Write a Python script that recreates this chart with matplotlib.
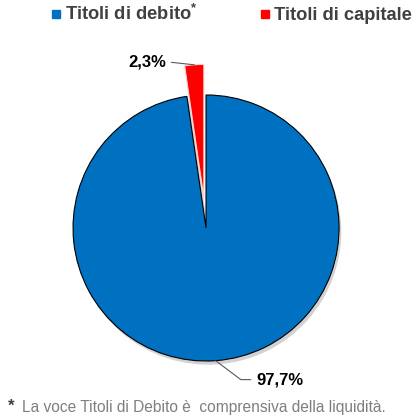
import numpy as np
import matplotlib
matplotlib.use("Agg")
import matplotlib.pyplot as plt
from matplotlib.lines import Line2D
from matplotlib.patches import Shadow

plt.rcParams['font.family'] = ['Liberation Sans', 'DejaVu Sans']
plt.rcParams['mathtext.fontset'] = 'custom'
plt.rcParams['mathtext.rm'] = 'Liberation Sans:bold'

# dati
categorie = ['Titoli di debito', 'Titoli di capitale']
valori = [97.7, 2.3]
etichette = ['97,7%', '2,3%']
colori = ['#0070C0', '#FF0000']
esplosione = [0.0, 0.23]

fig = plt.figure(figsize=(4.17, 4.19), dpi=100)
ax = fig.add_axes([0, 0, 1, 1])

wedges, _ = ax.pie(valori, colors=colori, explode=esplosione, startangle=90,
                   counterclock=False, radius=1.0,
                   wedgeprops=dict(linewidth=0.8))
wedges[0].set_edgecolor('black')
wedges[1].set_edgecolor('#ffd0d0')

# ombra grigia solo sulla fetta grande
ombra = Shadow(wedges[0], 0.012, -0.02, facecolor='#a6a6a6', edgecolor='none')
ombra.set_zorder(wedges[0].get_zorder() - 0.1)
ax.add_patch(ombra)

ax.set_xlim(-1.549, 1.586)
ax.set_ylim(-1.436, 1.714)
ax.set_aspect('auto')
ax.axis('off')

# etichette percentuali con linee guida
pos_testo = [(0.555, -1.14), (-0.445, 1.25)]
relpos = [(0, 0.5), (1, 0.5)]
connessioni = ['angle,angleA=0,angleB=-37,rad=0', 'arc3,rad=0']
for w, lab, (tx, ty), rp, cs in zip(wedges, etichette, pos_testo, relpos, connessioni):
    ang = np.deg2rad((w.theta1 + w.theta2) / 2)
    cx, cy = w.center
    px = cx + w.r * np.cos(ang)
    py = cy + w.r * np.sin(ang)
    ax.annotate(lab, xy=(px, py), xytext=(tx, ty),
                ha='center', va='center', fontsize=12, fontweight='bold',
                color='black',
                arrowprops=dict(arrowstyle='-', color='#595959', lw=0.8,
                                relpos=rp, shrinkA=2, shrinkB=0,
                                connectionstyle=cs))

# legenda
handles = [Line2D([], [], marker='s', linestyle='none', markersize=5.5,
                  markerfacecolor=c, markeredgecolor=c) for c in colori]
nomi = [categorie[0] + r'$^{*}$', categorie[1]]
fig.legend(handles, nomi, loc='upper center', bbox_to_anchor=(0.553, 1.03),
           ncol=2, frameon=False, handletextpad=0.15, columnspacing=3.3,
           handlelength=0.7, prop=dict(family='Liberation Sans', weight='bold', size=13.2),
           labelcolor='#404040')

# nota
fig.text(0.018, 0.03, '*', fontsize=12, fontweight='bold', color='#404040',
         ha='left', va='center')
fig.text(0.053, 0.027, 'La voce Titoli di Debito è  comprensiva della liquidità.',
         fontsize=11.2, color='#7f7f7f', ha='left', va='center')

fig.savefig('out.png', dpi=100)
